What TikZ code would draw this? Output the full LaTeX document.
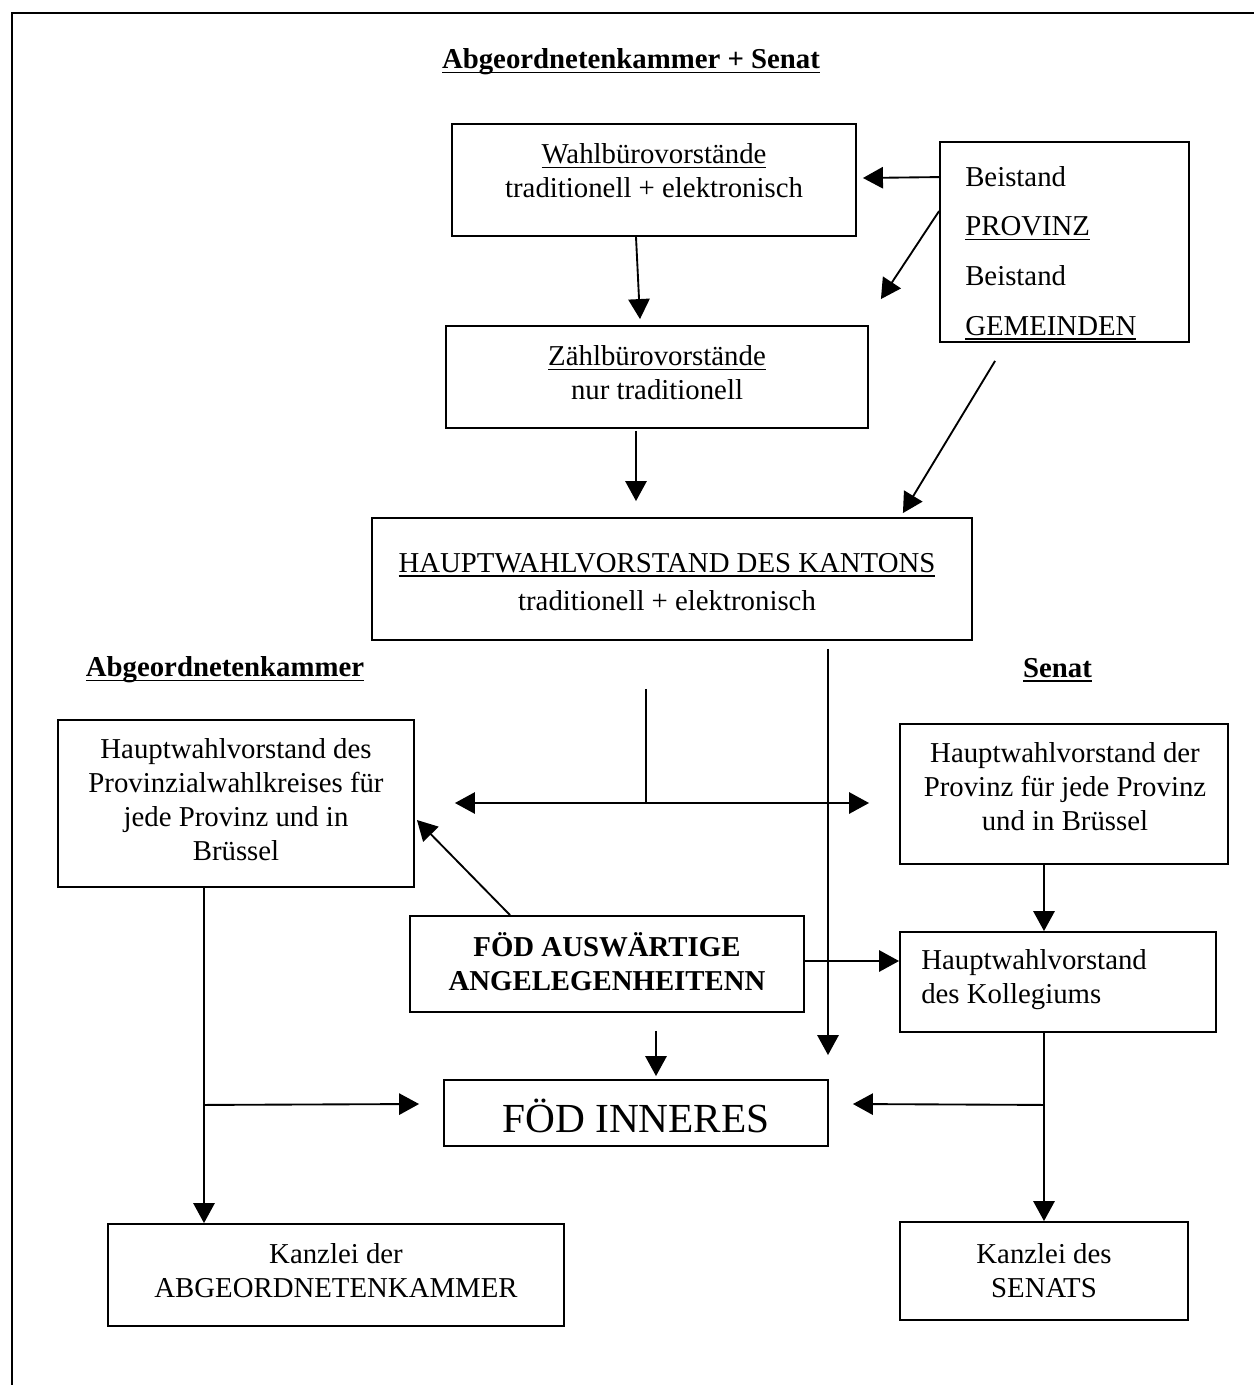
\documentclass[tikz,border=0pt]{standalone}
\usepackage{fontspec}
\setmainfont{Liberation Serif}
\newcommand\uln[1]{\setbox0\hbox{#1}\rlap{\rule[-3.2pt]{\wd0}{1.1pt}}\box0}
\usetikzlibrary{arrows.meta,calc}
\begin{document}
\begin{tikzpicture}[x=0.75pt,y=-0.75pt,
  box/.style 2 args={draw,line width=1.4pt,inner sep=0pt,rectangle,minimum width={#1*0.75pt},minimum height={#2*0.75pt}},
  txt/.style={inner sep=0pt,align=center,font=\fontsize{21.6}{25.5}\selectfont},
  head/.style={inner sep=0pt,font=\fontsize{21.6}{25.5}\selectfont\bfseries},
  arr/.style={line width=1.4pt,-{Triangle[length=15pt,width=16pt]}},
  arrboth/.style={line width=1.4pt,{Triangle[length=15pt,width=16pt]}-{Triangle[length=15pt,width=16pt]}},
  ln/.style={line width=1.4pt}]
\useasboundingbox (0,0) rectangle (1254,1385);
% outer frame
\draw[line width=1.6pt] (12,1385) -- (12,13) -- (1254,13);

% headings
\node[head] (hAS) at (631,62) {\uln{Abgeordnetenkammer + Senat}};
\node[head] (hA) at (225,670) {\uln{Abgeordnetenkammer}};
\node[head] (hS) at (1057.5,670) {\uln{Senat}};

% boxes
\node[box={404}{112}] (wahl) at (654,180) {};
\node[txt] (wahlT) at (654,171) {\uln{Wahlbürovorstände}\\traditionell + elektronisch};

\node[box={249}{200}] (beist) at (1064.5,242) {};
\node[inner sep=0pt,align=left,anchor=west,font=\fontsize{21.6}{37.3}\selectfont] (beistT) at (965,253)
  {Beistand\\\uln{PROVINZ}\\Beistand\\\uln{GEMEINDEN}};

\node[box={422}{102}] (zaehl) at (657,377) {};
\node[txt] (zaehlT) at (657,373) {\uln{Zählbürovorstände}\\nur traditionell};

\node[box={600}{122}] (haupt) at (672,579) {};
\node[txt] (hauptT) at (667,582) {\uln{HAUPTWAHLVORSTAND DES KANTONS}\\[3pt]traditionell + elektronisch};

\node[box={356}{167}] (lbox) at (236,803.5) {};
\node[txt] (lboxT) at (236,800) {Hauptwahlvorstand des\\Provinzialwahlkreises für\\jede Provinz und in\\Brüssel};

\node[box={328}{140}] (rbox) at (1064,794) {};
\node[txt] (rboxT) at (1065,787) {Hauptwahlvorstand der\\Provinz für jede Provinz\\und in Brüssel};

\node[box={394}{96}] (ausw) at (607,964) {};
\node[txt,font=\fontsize{21.6}{25.5}\selectfont\bfseries] (auswT) at (607,962) {FÖD AUSWÄRTIGE\\ANGELEGENHEITENN};

\node[box={316}{100}] (koll) at (1058,982) {};
\node[txt,align=left,anchor=west] (kollT) at (921,980) {Hauptwahlvorstand\\des Kollegiums};

\node[box={384}{66}] (inn) at (636,1113) {};
\node[inner sep=0pt,font=\fontsize{31}{36}\selectfont] (innT) at (636,1116) {FÖD INNERES};

\node[box={456}{102}] (kanzL) at (336,1275) {};
\node[txt] (kanzLT) at (336,1271) {Kanzlei der\\ABGEORDNETENKAMMER};

\node[box={288}{98}] (kanzR) at (1044,1271) {};
\node[txt] (kanzRT) at (1044,1271) {Kanzlei des\\SENATS};

% connectors
\draw[arr] ($(beist.north west)+(0,36)$) -- ($(wahl.east)+(6,-2)$);
\draw[arr] ($(beist.north west)+(0,70)$) -- ($(zaehl.north east)+(12,-26)$);
\draw[arr] ($(beist.south west)+(56,18)$) -- ($(haupt.north east)+(-70,-4)$);
\draw[arr] ($(wahl.south)+(-18,0)$) -- ($(zaehl.north)+(-17,-6)$);
\draw[arr] ($(zaehl.south)+(-21,2)$) -- ($(haupt.north)+(-36,-16)$);

\coordinate (j1) at ($(haupt.south)+(-26,163)$);
\draw[ln] ($(haupt.south)+(-26,48)$) -- (j1);
\draw[arrboth] ($(lbox.east)+(40,-0.5)$) -- ($(rbox.west)+(-30,9)$);
\draw[arr] ($(haupt.south)+(156,8)$) -- ($(inn.north)+(192,-24)$);

\coordinate (j2) at ($(lbox.south)+(-32,217)$);
\draw[arr] ($(lbox.south)+(-32,0)$) -- ($(kanzL.north)+(-132,0)$);
\draw[arr] (j2) -- ($(inn.west)+(-24,-9)$);

\draw[arr] ($(ausw.north)+(-97,0)$) -- ($(lbox.east)+(2,16.5)$);
\draw[arr] ($(ausw.east)+(0,-3)$) -- ($(koll.west)+(0,-21)$);
\draw[arr] ($(ausw.south)+(49,18)$) -- ($(inn.north)+(20,-3)$);

\draw[arr] ($(rbox.south)+(-20,0)$) -- ($(koll.north)+(-14,0)$);
\coordinate (j3) at ($(koll.south)+(-14,72)$);
\draw[arr] ($(koll.south)+(-14,0)$) -- (kanzR.north);
\draw[arr] (j3) -- ($(inn.east)+(24,-9)$);
\end{tikzpicture}
\end{document}
